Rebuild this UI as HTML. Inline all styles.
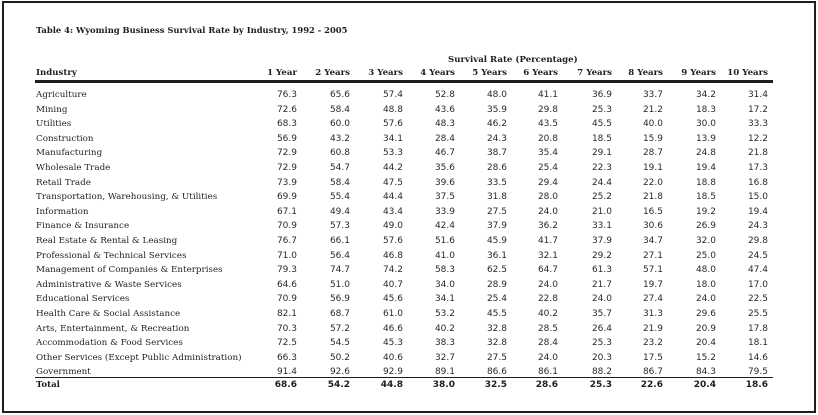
<!DOCTYPE html>
<html>
<head>
<meta charset="utf-8">
<style>
  html, body { margin:0; padding:0; background:#fff; }
  body { width:818px; height:415px; position:relative; overflow:hidden; }
  .frame { position:absolute; left:2px; top:1px; width:810px; height:408px; border:2px solid #1e1e1e; }
  .t { position:absolute; white-space:nowrap; color:#1e1e1e; }
  .serif { font-family:"DejaVu Serif","Liberation Serif",serif; }
  .b { font-weight:bold; }
  .row { position:absolute; left:0; width:818px; height:14px; line-height:14px; white-space:nowrap; }
  .row .lab { position:absolute; left:36px; font-family:"DejaVu Serif","Liberation Serif",serif; font-size:8.75px; color:#1e1e1e; }
  .row .v { position:absolute; font-family:"DejaVu Sans","Liberation Sans",sans-serif; font-size:9px; color:#2a2a2a; text-align:right; }
  .row.hdr .v { font-family:"DejaVu Serif","Liberation Serif",serif; font-size:8.6px; font-weight:bold; color:#1e1e1e; }
  .row.hdr .lab { font-weight:bold; font-size:8.6px; }
  .row.tot .v { font-weight:bold; color:#1e1e1e; }
  .row.tot .lab { font-weight:bold; font-size:8.6px; }
  .c1{right:521px}.c2{right:468px}.c3{right:415px}.c4{right:363px}.c5{right:311px}
  .c6{right:260px}.c7{right:206px}.c8{right:155px}.c9{right:102px}.c10{right:50px}
  .rule { position:absolute; left:35px; width:738px; background:#1e1e1e; }
</style>
</head>
<body>
<div class="frame"></div>
<div class="t serif b" style="left:36px; top:23px; line-height:14px; font-size:8.4px;">Table 4: Wyoming Business Survival Rate by Industry, 1992 - 2005</div>
<div class="t serif b" style="left:448px; width:129px; text-align:center; top:53px; line-height:14px; font-size:8.6px;">Survival Rate (Percentage)</div>

<div class="row hdr" style="top:66px;"><span class="lab">Industry</span><span class="v c1">1 Year</span><span class="v c2">2 Years</span><span class="v c3">3 Years</span><span class="v c4">4 Years</span><span class="v c5">5 Years</span><span class="v c6">6 Years</span><span class="v c7">7 Years</span><span class="v c8">8 Years</span><span class="v c9">9 Years</span><span class="v c10">10 Years</span></div>
<div class="rule" style="top:80px; height:3px;"></div>

<div class="row" style="top:88px;"><span class="lab">Agriculture</span><span class="v c1">76.3</span><span class="v c2">65.6</span><span class="v c3">57.4</span><span class="v c4">52.8</span><span class="v c5">48.0</span><span class="v c6">41.1</span><span class="v c7">36.9</span><span class="v c8">33.7</span><span class="v c9">34.2</span><span class="v c10">31.4</span></div>
<div class="row" style="top:102.6px;"><span class="lab">Mining</span><span class="v c1">72.6</span><span class="v c2">58.4</span><span class="v c3">48.8</span><span class="v c4">43.6</span><span class="v c5">35.9</span><span class="v c6">29.8</span><span class="v c7">25.3</span><span class="v c8">21.2</span><span class="v c9">18.3</span><span class="v c10">17.2</span></div>
<div class="row" style="top:117.2px;"><span class="lab">Utilities</span><span class="v c1">68.3</span><span class="v c2">60.0</span><span class="v c3">57.6</span><span class="v c4">48.3</span><span class="v c5">46.2</span><span class="v c6">43.5</span><span class="v c7">45.5</span><span class="v c8">40.0</span><span class="v c9">30.0</span><span class="v c10">33.3</span></div>
<div class="row" style="top:131.8px;"><span class="lab">Construction</span><span class="v c1">56.9</span><span class="v c2">43.2</span><span class="v c3">34.1</span><span class="v c4">28.4</span><span class="v c5">24.3</span><span class="v c6">20.8</span><span class="v c7">18.5</span><span class="v c8">15.9</span><span class="v c9">13.9</span><span class="v c10">12.2</span></div>
<div class="row" style="top:146.4px;"><span class="lab">Manufacturing</span><span class="v c1">72.9</span><span class="v c2">60.8</span><span class="v c3">53.3</span><span class="v c4">46.7</span><span class="v c5">38.7</span><span class="v c6">35.4</span><span class="v c7">29.1</span><span class="v c8">28.7</span><span class="v c9">24.8</span><span class="v c10">21.8</span></div>
<div class="row" style="top:161px;"><span class="lab">Wholesale Trade</span><span class="v c1">72.9</span><span class="v c2">54.7</span><span class="v c3">44.2</span><span class="v c4">35.6</span><span class="v c5">28.6</span><span class="v c6">25.4</span><span class="v c7">22.3</span><span class="v c8">19.1</span><span class="v c9">19.4</span><span class="v c10">17.3</span></div>
<div class="row" style="top:175.6px;"><span class="lab">Retail Trade</span><span class="v c1">73.9</span><span class="v c2">58.4</span><span class="v c3">47.5</span><span class="v c4">39.6</span><span class="v c5">33.5</span><span class="v c6">29.4</span><span class="v c7">24.4</span><span class="v c8">22.0</span><span class="v c9">18.8</span><span class="v c10">16.8</span></div>
<div class="row" style="top:190.2px;"><span class="lab">Transportation, Warehousing, &amp; Utilities</span><span class="v c1">69.9</span><span class="v c2">55.4</span><span class="v c3">44.4</span><span class="v c4">37.5</span><span class="v c5">31.8</span><span class="v c6">28.0</span><span class="v c7">25.2</span><span class="v c8">21.8</span><span class="v c9">18.5</span><span class="v c10">15.0</span></div>
<div class="row" style="top:204.8px;"><span class="lab">Information</span><span class="v c1">67.1</span><span class="v c2">49.4</span><span class="v c3">43.4</span><span class="v c4">33.9</span><span class="v c5">27.5</span><span class="v c6">24.0</span><span class="v c7">21.0</span><span class="v c8">16.5</span><span class="v c9">19.2</span><span class="v c10">19.4</span></div>
<div class="row" style="top:219.4px;"><span class="lab">Finance &amp; Insurance</span><span class="v c1">70.9</span><span class="v c2">57.3</span><span class="v c3">49.0</span><span class="v c4">42.4</span><span class="v c5">37.9</span><span class="v c6">36.2</span><span class="v c7">33.1</span><span class="v c8">30.6</span><span class="v c9">26.9</span><span class="v c10">24.3</span></div>
<div class="row" style="top:234px;"><span class="lab">Real Estate &amp; Rental &amp; Leasing</span><span class="v c1">76.7</span><span class="v c2">66.1</span><span class="v c3">57.6</span><span class="v c4">51.6</span><span class="v c5">45.9</span><span class="v c6">41.7</span><span class="v c7">37.9</span><span class="v c8">34.7</span><span class="v c9">32.0</span><span class="v c10">29.8</span></div>
<div class="row" style="top:248.6px;"><span class="lab">Professional &amp; Technical Services</span><span class="v c1">71.0</span><span class="v c2">56.4</span><span class="v c3">46.8</span><span class="v c4">41.0</span><span class="v c5">36.1</span><span class="v c6">32.1</span><span class="v c7">29.2</span><span class="v c8">27.1</span><span class="v c9">25.0</span><span class="v c10">24.5</span></div>
<div class="row" style="top:263.2px;"><span class="lab">Management of Companies &amp; Enterprises</span><span class="v c1">79.3</span><span class="v c2">74.7</span><span class="v c3">74.2</span><span class="v c4">58.3</span><span class="v c5">62.5</span><span class="v c6">64.7</span><span class="v c7">61.3</span><span class="v c8">57.1</span><span class="v c9">48.0</span><span class="v c10">47.4</span></div>
<div class="row" style="top:277.8px;"><span class="lab">Administrative &amp; Waste Services</span><span class="v c1">64.6</span><span class="v c2">51.0</span><span class="v c3">40.7</span><span class="v c4">34.0</span><span class="v c5">28.9</span><span class="v c6">24.0</span><span class="v c7">21.7</span><span class="v c8">19.7</span><span class="v c9">18.0</span><span class="v c10">17.0</span></div>
<div class="row" style="top:292.4px;"><span class="lab">Educational Services</span><span class="v c1">70.9</span><span class="v c2">56.9</span><span class="v c3">45.6</span><span class="v c4">34.1</span><span class="v c5">25.4</span><span class="v c6">22.8</span><span class="v c7">24.0</span><span class="v c8">27.4</span><span class="v c9">24.0</span><span class="v c10">22.5</span></div>
<div class="row" style="top:307px;"><span class="lab">Health Care &amp; Social Assistance</span><span class="v c1">82.1</span><span class="v c2">68.7</span><span class="v c3">61.0</span><span class="v c4">53.2</span><span class="v c5">45.5</span><span class="v c6">40.2</span><span class="v c7">35.7</span><span class="v c8">31.3</span><span class="v c9">29.6</span><span class="v c10">25.5</span></div>
<div class="row" style="top:321.6px;"><span class="lab">Arts, Entertainment, &amp; Recreation</span><span class="v c1">70.3</span><span class="v c2">57.2</span><span class="v c3">46.6</span><span class="v c4">40.2</span><span class="v c5">32.8</span><span class="v c6">28.5</span><span class="v c7">26.4</span><span class="v c8">21.9</span><span class="v c9">20.9</span><span class="v c10">17.8</span></div>
<div class="row" style="top:336.2px;"><span class="lab">Accommodation &amp; Food Services</span><span class="v c1">72.5</span><span class="v c2">54.5</span><span class="v c3">45.3</span><span class="v c4">38.3</span><span class="v c5">32.8</span><span class="v c6">28.4</span><span class="v c7">25.3</span><span class="v c8">23.2</span><span class="v c9">20.4</span><span class="v c10">18.1</span></div>
<div class="row" style="top:350.8px;"><span class="lab">Other Services (Except Public Administration)</span><span class="v c1">66.3</span><span class="v c2">50.2</span><span class="v c3">40.6</span><span class="v c4">32.7</span><span class="v c5">27.5</span><span class="v c6">24.0</span><span class="v c7">20.3</span><span class="v c8">17.5</span><span class="v c9">15.2</span><span class="v c10">14.6</span></div>
<div class="row" style="top:365.4px;"><span class="lab">Government</span><span class="v c1">91.4</span><span class="v c2">92.6</span><span class="v c3">92.9</span><span class="v c4">89.1</span><span class="v c5">86.6</span><span class="v c6">86.1</span><span class="v c7">88.2</span><span class="v c8">86.7</span><span class="v c9">84.3</span><span class="v c10">79.5</span></div>
<div class="rule" style="top:377px; height:1px;"></div>
<div class="row tot" style="top:377.5px;"><span class="lab">Total</span><span class="v c1">68.6</span><span class="v c2">54.2</span><span class="v c3">44.8</span><span class="v c4">38.0</span><span class="v c5">32.5</span><span class="v c6">28.6</span><span class="v c7">25.3</span><span class="v c8">22.6</span><span class="v c9">20.4</span><span class="v c10">18.6</span></div>
</body>
</html>
